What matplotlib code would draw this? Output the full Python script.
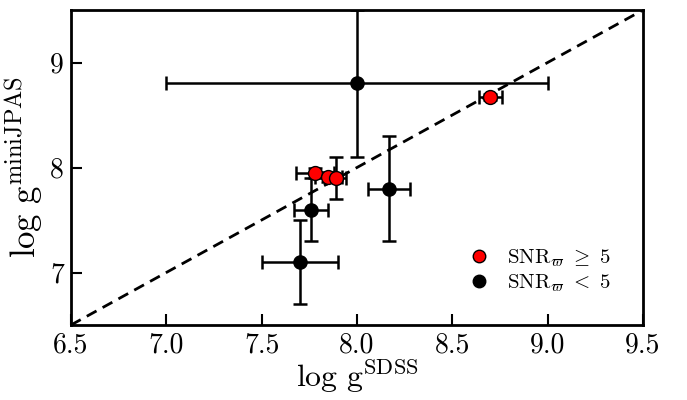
import numpy as np
import matplotlib
matplotlib.use("Agg")
import matplotlib.pyplot as plt

plt.rcParams['font.family'] = 'serif'
plt.rcParams['font.serif'] = ['cmr10', 'DejaVu Serif']
plt.rcParams['mathtext.fontset'] = 'cm'
plt.rcParams['axes.formatter.use_mathtext'] = True

# data: SNR >= 5 (red)
hi_x = [7.78, 7.85, 7.89, 8.70]
hi_y = [7.95, 7.91, 7.90, 8.67]
hi_xerr = [0.10, 0.07, 0.05, 0.06]
hi_yerr = [0.05, 0.05, 0.20, 0.03]

# data: SNR < 5 (black)
lo_x = [8.00, 7.76, 7.70, 8.17]
lo_y = [8.80, 7.60, 7.10, 7.80]
lo_xerr = [1.00, 0.09, 0.20, 0.11]
lo_yerr = [0.70, 0.30, 0.40, 0.50]

fig = plt.figure(figsize=(6.87, 4.0), dpi=100)
ax = fig.add_axes([0.1033, 0.1875, 0.8327, 0.7875])

line = np.array([6.5, 9.5])
ax.plot(line, line, 'k--', lw=2, dashes=(4, 2.5), zorder=1)

ax.errorbar(lo_x, lo_y, xerr=lo_xerr, yerr=lo_yerr, fmt='o', color='k',
            ms=9.5, mec='k', elinewidth=1.8, capsize=5, capthick=1.8, zorder=2)
ax.errorbar(hi_x, hi_y, xerr=hi_xerr, yerr=hi_yerr, fmt='none', ecolor='k',
            elinewidth=1.8, capsize=5, capthick=1.8, zorder=3)
ax.plot(hi_x, hi_y, 'o', color='red', mec='k', mew=1, ms=10, zorder=4)

# legend handles
ax.plot([], [], 'o', color='red', mec='k', mew=1, ms=9,
        label=r'$\mathrm{SNR}_{\varpi}\ \geq\ 5$')
ax.plot([], [], 'o', color='k', ms=9, label=r'$\mathrm{SNR}_{\varpi}\ <\ 5$')
ax.legend(loc='lower right', frameon=False, fontsize=15, handletextpad=0.3,
          labelspacing=0.15, bbox_to_anchor=(0.975, 0.04))

ax.set_xlim(6.5, 9.5)
ax.set_ylim(6.5, 9.5)
ax.set_xticks([6.5, 7.0, 7.5, 8.0, 8.5, 9.0, 9.5])
ax.set_yticks([7, 8, 9])
ax.set_xticklabels(['6.5', '7.0', '7.5', '8.0', '8.5', '9.0', '9.5'])
ax.set_yticklabels(['7', '8', '9'])
ax.tick_params(direction='in', length=8, width=1.5, labelsize=20, pad=5)
for s in ax.spines.values():
    s.set_linewidth(2)

ax.set_xlabel(r'$\log\,\mathrm{g}^{\mathrm{SDSS}}$', fontsize=23, labelpad=-1)
ax.set_ylabel(r'$\log\,\mathrm{g}^{\mathrm{miniJPAS}}$', fontsize=25, labelpad=4)

fig.savefig('out.png', dpi=100)
